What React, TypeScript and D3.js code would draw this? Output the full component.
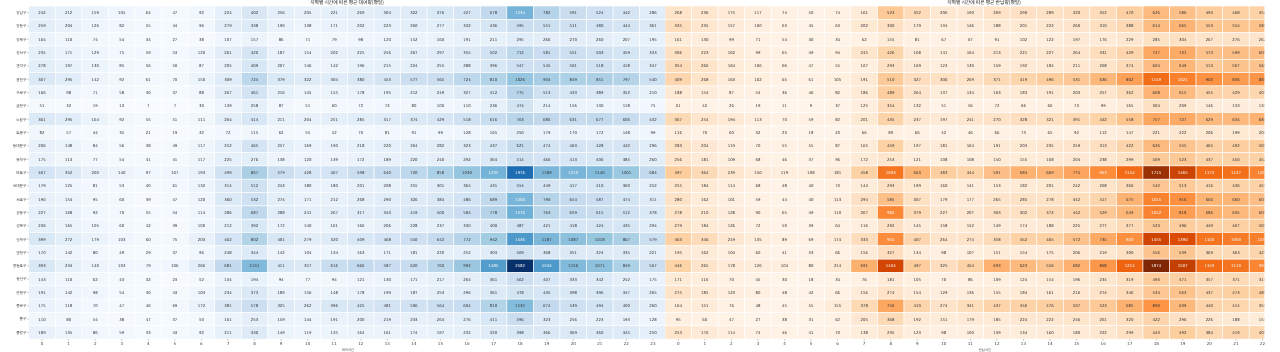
import React from "react";
import * as d3 from "d3";

const districts = ["강남구","강동구","강북구","강서구","관악구","광진구","구로구","금천구","노원구","도봉구","동대문구","동작구","마포구","서대문구","서초구","성동구","성북구","송파구","양천구","영등포구","용산구","은평구","종로구","중구","중랑구"];
const hours = d3.range(24).map(String);

const rentals: number[][] = [
  [242,212,159,105,64,47,92,224,402,256,205,221,269,304,322,376,427,678,1234,782,591,524,442,286],
  [259,204,126,82,55,44,96,279,338,190,138,171,202,223,260,277,332,436,595,551,511,480,444,361],
  [164,110,74,54,34,27,38,107,157,86,71,79,98,120,152,160,191,211,295,266,270,260,207,195],
  [235,171,129,75,59,53,120,261,420,187,154,202,225,256,267,297,355,502,712,581,551,503,459,333],
  [278,197,130,85,56,50,87,205,409,207,146,142,196,215,224,255,288,396,547,545,501,518,418,347],
  [367,295,142,92,61,70,150,309,724,379,322,304,380,453,577,565,724,810,1026,904,849,851,797,540],
  [166,98,71,58,30,37,88,267,461,216,145,155,178,195,212,249,327,412,775,513,433,389,352,210],
  [51,32,19,13,7,7,30,139,258,87,51,60,72,72,80,100,110,236,474,214,156,130,118,75],
  [361,295,164,92,55,51,111,264,414,211,204,251,285,317,374,429,518,616,763,686,631,677,606,432],
  [82,57,44,35,21,19,32,72,115,62,55,52,76,81,91,99,128,165,250,179,170,172,148,99],
  [206,148,84,56,38,49,117,252,465,257,169,190,218,220,264,282,323,437,621,474,463,428,442,296],
  [175,113,77,54,41,41,117,225,276,138,120,139,172,189,220,240,292,364,514,466,413,406,385,260],
  [467,352,200,140,97,107,193,499,867,579,428,467,598,640,720,858,1030,1235,1976,1189,1210,1140,1001,684],
  [179,125,81,53,40,61,132,314,512,243,180,180,201,208,255,301,364,431,554,449,417,410,360,252],
  [190,154,95,60,39,47,120,360,532,274,171,212,268,290,326,384,486,689,1200,790,654,587,474,311],
  [227,168,92,70,55,54,114,286,687,288,241,267,317,343,419,500,584,778,1270,763,659,615,512,378],
  [236,165,105,60,42,39,100,212,392,172,140,161,166,206,228,237,330,400,487,421,418,424,435,294],
  [399,272,179,103,60,75,203,462,802,401,279,320,409,468,550,642,772,942,1536,1187,1087,1018,867,579],
  [170,142,80,49,29,37,96,248,344,142,104,134,163,171,181,220,252,303,509,368,351,324,335,221],
  [393,234,140,103,79,106,266,681,1151,411,357,616,666,587,620,760,992,1485,2582,1534,1156,1071,849,567],
  [143,110,62,43,32,23,52,134,194,94,77,94,121,130,171,217,264,361,562,407,333,342,252,175],
  [191,142,98,54,30,43,103,234,373,189,156,148,178,199,187,253,296,361,478,435,398,396,347,265],
  [175,118,70,47,46,69,172,381,578,325,262,396,425,481,506,564,604,810,1135,674,539,494,400,260],
  [110,80,54,38,47,37,50,161,253,159,144,191,200,219,233,264,276,411,596,323,256,223,193,128],
  [189,135,86,59,33,43,92,211,330,149,119,135,164,161,174,197,232,320,398,366,369,360,345,250],
];

const returns: number[][] = [
  [268,236,175,117,74,50,74,161,523,352,206,190,269,290,289,320,352,470,626,586,493,468,452],
  [335,235,157,100,63,45,63,202,300,179,134,146,188,201,222,260,310,388,614,665,553,554,581],
  [161,130,99,71,54,30,34,62,155,81,67,67,91,102,122,197,176,229,285,304,267,276,262],
  [306,223,162,99,65,49,94,245,426,168,141,164,213,221,227,264,331,429,747,731,573,599,603],
  [354,266,164,106,66,47,55,107,293,169,123,130,159,192,184,211,268,374,604,649,513,567,561],
  [409,268,163,102,65,61,105,191,510,327,306,269,371,419,496,531,636,802,1149,1021,903,836,883],
  [188,154,87,54,36,46,82,186,489,264,137,134,163,183,191,203,257,362,668,615,455,429,403],
  [61,42,26,19,11,9,37,125,354,132,51,56,72,66,66,73,99,165,304,209,146,133,131],
  [367,254,194,113,70,59,82,201,435,237,197,241,270,328,321,391,442,558,757,727,629,634,684],
  [116,76,60,32,23,18,23,66,89,66,42,46,66,73,65,92,112,147,221,222,206,199,204],
  [283,204,119,70,55,55,87,165,459,197,181,164,191,203,235,259,313,422,626,555,465,492,503],
  [256,181,109,68,46,37,96,172,253,121,108,108,150,155,168,204,238,299,509,523,437,450,452],
  [497,364,239,150,119,108,181,458,1093,663,483,444,591,684,669,775,953,1154,1715,1465,1173,1127,1003],
  [255,184,114,68,48,40,73,144,293,199,160,141,153,182,201,242,268,366,542,513,416,436,453],
  [280,162,101,59,44,40,113,294,585,307,179,177,265,285,278,342,417,675,1015,916,660,660,603],
  [278,210,128,90,65,49,110,267,982,379,227,207,303,302,372,442,529,649,1012,818,686,635,603],
  [279,184,126,72,50,39,64,116,292,145,158,152,149,174,188,225,277,377,523,496,449,467,503],
  [463,346,219,135,89,69,174,333,941,407,264,274,358,452,465,572,735,920,1455,1390,1103,1050,1033],
  [195,162,104,60,41,33,66,156,327,134,98,107,151,154,175,206,219,300,556,539,369,363,423],
  [446,265,178,126,104,80,214,691,1434,497,325,454,693,623,556,682,868,1214,1874,1507,1159,1110,993],
  [171,116,70,45,30,18,34,76,181,105,70,86,109,124,154,196,234,319,493,471,357,371,313],
  [275,185,123,80,48,42,66,156,274,154,129,136,155,184,161,216,274,346,534,563,437,473,483],
  [164,151,76,48,45,55,155,378,756,410,274,341,437,456,476,507,523,685,890,639,440,414,353],
  [95,60,47,27,38,31,62,205,368,192,151,179,185,224,222,246,261,320,422,296,226,188,153],
  [253,176,114,74,46,41,70,138,235,123,98,100,139,134,160,180,222,299,443,492,384,419,403],
];

const W = 1280, H = 352;
const top = 6.0, bottom = 339.1;
const font = "'Noto Sans CJK KR','DejaVu Sans',sans-serif";
const digitFont = "'DejaVu Sans',sans-serif";

function Panel({ values, x0, x1, palette, title, titleX, xLabel, xLabelX, showY, clipId }: any) {
  const x = d3.scaleBand<string>().domain(hours).range([x0, x1]);
  const y = d3.scaleBand<string>().domain(districts).range([top, bottom]);
  const flat = values.flat() as number[];
  const lo = d3.min(flat)!, hi = d3.max(flat)!;
  const t = d3.scaleLinear().domain([lo, hi]).range([0, 1]);
  const ramp = d3.piecewise(d3.interpolateRgb, palette as string[]);
  return (
    <g>
      <g clipPath={`url(#${clipId})`}>
        {values.map((row: number[], r: number) =>
          row.map((v, c) => {
            const col = ramp(t(v));
            const lum = d3.lab(col).l;
            return (
              <g key={`${r}-${c}`}>
                <rect x={x(hours[c])} y={y(districts[r])} width={x.bandwidth()} height={y.bandwidth()} fill={col} stroke="#fff" strokeWidth={0.6} />
                <text x={x(hours[c])! + x.bandwidth() / 2} y={y(districts[r])! + y.bandwidth() / 2} dy="0.36em" textAnchor="middle" fontFamily={digitFont} fontSize={3.9} fill={lum < 71 ? "#f7f7f7" : "#333"}>{v}</text>
              </g>
            );
          })
        )}
      </g>
      {hours.map((h) => {
        const cx = x(h)! + x.bandwidth() / 2;
        if (cx > 1265) return null;
        return (
          <g key={h}>
            <line x1={cx} x2={cx} y1={bottom} y2={bottom + 1.6} stroke="#555" strokeWidth={0.35} />
            <text x={cx} y={345.4} textAnchor="middle" fontFamily={digitFont} fontSize={4.1} fill="#444">{h}</text>
          </g>
        );
      })}
      {showY && districts.map((d) => {
        const cy = y(d)! + y.bandwidth() / 2;
        return (
          <g key={d}>
            <line x1={x0 - 1.6} x2={x0} y1={cy} y2={cy} stroke="#555" strokeWidth={0.35} />
            <text x={x0 - 2.4} y={cy} dy="0.36em" textAnchor="end" fontFamily={font} fontSize={3.7} fill="#333">{d}</text>
          </g>
        );
      })}
      <text x={titleX} y={3.9} textAnchor="middle" fontFamily={font} fontSize={4.8} fill="#222">{title}</text>
      <text x={xLabelX} y={350.5} textAnchor="middle" fontFamily={font} fontSize={3.4} fill="#444">{xLabel}</text>
    </g>
  );
}

export default function App() {
  return (
    <svg width={W} height={H} viewBox={`0 0 ${W} ${H}`} textRendering="geometricPrecision" style={{ position: "absolute", left: 0, top: 0, background: "#fff", filter: "blur(0.3px)" }}>
      <defs>
        <clipPath id="clipL"><rect x={0} y={0} width={666} height={H} /></clipPath>
        <clipPath id="clipR"><rect x={665} y={0} width={599.4} height={H} /></clipPath>
      </defs>
      <Panel values={rentals} x0={28.8} x1={666.2} palette={d3.schemeBlues[9]} title="지역별 시간에 따른 평균 대여량(평일)" titleX={347} xLabel="대여시간" xLabelX={348} showY clipId="clipL" />
      <Panel values={returns} x0={665} x1={1302.3} palette={d3.schemeOranges[9]} title="지역별 시간에 따른 평균 반납량(평일)" titleX={984} xLabel="반납시간" xLabelX={985} showY={false} clipId="clipR" />
    </svg>
  );
}
